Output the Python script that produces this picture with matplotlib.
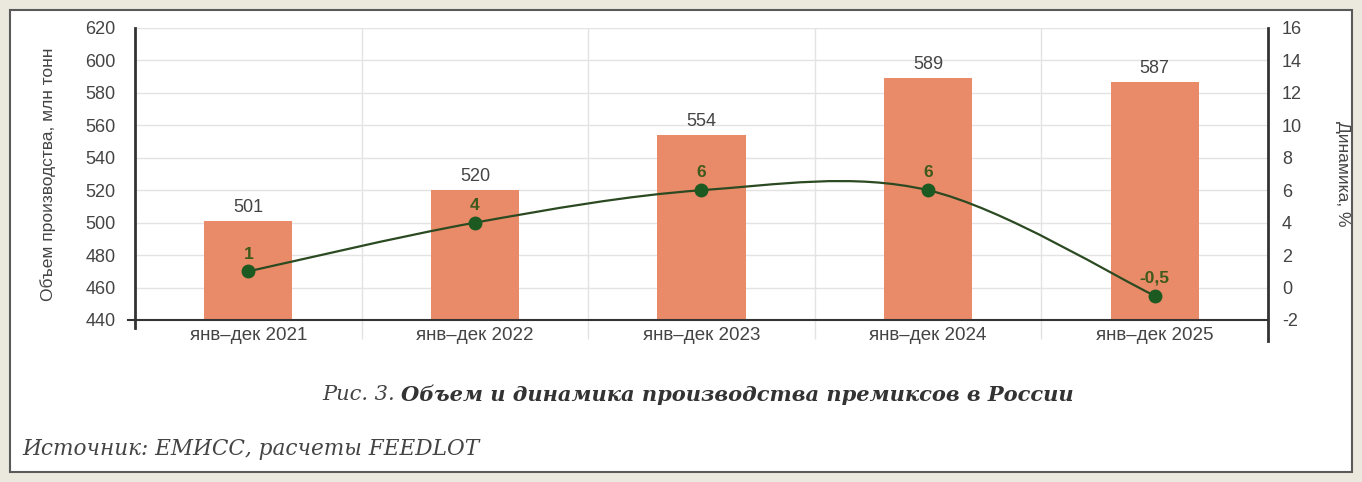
import matplotlib
matplotlib.use("Agg")
import matplotlib.pyplot as plt
from matplotlib.path import Path
from matplotlib.patches import PathPatch, Rectangle
import numpy as np

# Данные
periods = ["янв–дек 2021", "янв–дек 2022", "янв–дек 2023", "янв–дек 2024", "янв–дек 2025"]
volume = [501, 520, 554, 589, 587]
dynamics = [1, 4, 6, 6, -0.5]
dyn_labels = ["1", "4", "6", "6", "-0,5"]

plt.rcParams['font.family'] = ['Liberation Sans', 'DejaVu Sans']
plt.rcParams['axes.unicode_minus'] = False

W, H = 1362, 482
fig = plt.figure(figsize=(W / 100, H / 100), dpi=100)
fig.patch.set_facecolor('#ebe8dd')

# рамка
fig.patches.append(Rectangle((10 / W, 10 / H), 1342 / W, 462 / H,
                             transform=fig.transFigure, facecolor='white',
                             edgecolor='#5a5a5a', linewidth=1.5, zorder=-5))

ax = fig.add_axes([135 / W, 1 - 320 / H, 1133 / W, 292 / H])
ax.set_facecolor('none')
x = np.arange(len(periods))

ax.bar(x, volume, width=0.39, color='#e98b68', zorder=2)
for xi, v in zip(x, volume):
    ax.text(xi, v + 3, str(v), ha='center', va='bottom', fontsize=13, color='#444444')

ax.set_ylim(440, 620)
ax.set_yticks(np.arange(440, 621, 20))
ax.set_xlim(-0.5, len(periods) - 0.5)
ax.set_xticks(x)
ax.set_xticklabels(periods)
ax.set_xticks(np.arange(0.5, len(periods) - 0.5, 1), minor=True)
ax.tick_params(axis='x', which='major', length=0, pad=5, labelsize=13.5, labelcolor='#444444')
ax.tick_params(axis='x', which='minor', length=14, color='#e3e3e3', width=1)
ax.tick_params(axis='y', length=0, labelsize=13, labelcolor='#444444', pad=14)
ax.grid(axis='y', color='#e3e3e3', linewidth=1, zorder=0)
ax.grid(axis='x', which='minor', color='#e3e3e3', linewidth=1, zorder=0)
ax.set_axisbelow(True)
for s in ['top', 'right']:
    ax.spines[s].set_visible(False)
ax.spines['left'].set_linewidth(2)
ax.spines['left'].set_color('#333333')
ax.spines['left'].set_bounds(435, 620)
ax.spines['bottom'].set_linewidth(1.5)
ax.spines['bottom'].set_color('#333333')
ax.spines['bottom'].set_bounds(-0.53, len(periods) - 0.5)
ax.set_ylabel("Объем производства, млн тонн", fontsize=12.5, color='#444444')
ax.yaxis.set_label_coords(-0.07, 0.5)

ax2 = ax.twinx()
ax2.set_ylim(-2, 16)
ax2.set_yticks(np.arange(-2, 17, 2))
ax2.tick_params(axis='y', length=0, labelsize=13, labelcolor='#444444', pad=10)
for s in ['top', 'left', 'bottom']:
    ax2.spines[s].set_visible(False)
ax2.spines['right'].set_linewidth(2)
ax2.spines['right'].set_color('#333333')
ax2.spines['right'].set_bounds(-3.3, 16)
ax2.set_ylabel("Динамика, %", fontsize=12.5, color='#444444', rotation=-90, va='center')
ax2.yaxis.set_label_coords(1.066, 0.5)

# сглаженная линия (кривые Безье как в Excel)
pts = list(zip(x.astype(float), dynamics))
verts = [pts[0]]
codes = [Path.MOVETO]
n = len(pts)
for i in range(n - 1):
    p0 = pts[i - 1] if i > 0 else pts[i]
    p1 = pts[i]
    p2 = pts[i + 1]
    p3 = pts[i + 2] if i + 2 < n else pts[i + 1]
    c1 = (p1[0] + (p2[0] - p0[0]) / 6, p1[1] + (p2[1] - p0[1]) / 6)
    c2 = (p2[0] - (p3[0] - p1[0]) / 6, p2[1] - (p3[1] - p1[1]) / 6)
    verts += [c1, c2, p2]
    codes += [Path.CURVE4] * 3
ax2.add_patch(PathPatch(Path(verts, codes), facecolor='none', edgecolor='#2b4a22',
                        linewidth=1.6, zorder=3))
ax2.plot(x, dynamics, linestyle='none', marker='o', markersize=9,
         color='#1d5a22', zorder=4)
for xi, d, lab in zip(x, dynamics, dyn_labels):
    ax2.text(xi, d + 0.6, lab, ha='center', va='bottom', fontsize=12.5,
             fontweight='bold', color='#3d5a1c', zorder=5)

# подписи (шрифт подгоняется по ширине)
serif = 'DejaVu Serif'
fs = 12
r = fig.canvas.get_renderer()
t1 = fig.text(0, 1 - 395 / H, "Рис. 3. ", ha='left', va='center', fontsize=fs,
              style='italic', family=serif, color='#444444')
t2 = fig.text(0, 1 - 395 / H, "Объем и динамика производства премиксов в России",
              ha='left', va='center', fontsize=fs, style='italic', fontweight='bold',
              family=serif, color='#333333')
w = t1.get_window_extent(r).width + t2.get_window_extent(r).width
k = 753 / w
t1.set_fontsize(fs * k)
t2.set_fontsize(fs * k)
w1 = t1.get_window_extent(r).width
t1.set_x(322 / W)
t2.set_x((322 + w1) / W)

t3 = fig.text(22 / W, 1 - 449 / H, "Источник: ЕМИСС, расчеты FEEDLOT", ha='left',
              va='center', fontsize=fs, style='italic', family=serif, color='#444444')
t3.set_fontsize(fs * 456 / t3.get_window_extent(r).width)

fig.savefig("out.png", dpi=100, facecolor=fig.get_facecolor())
